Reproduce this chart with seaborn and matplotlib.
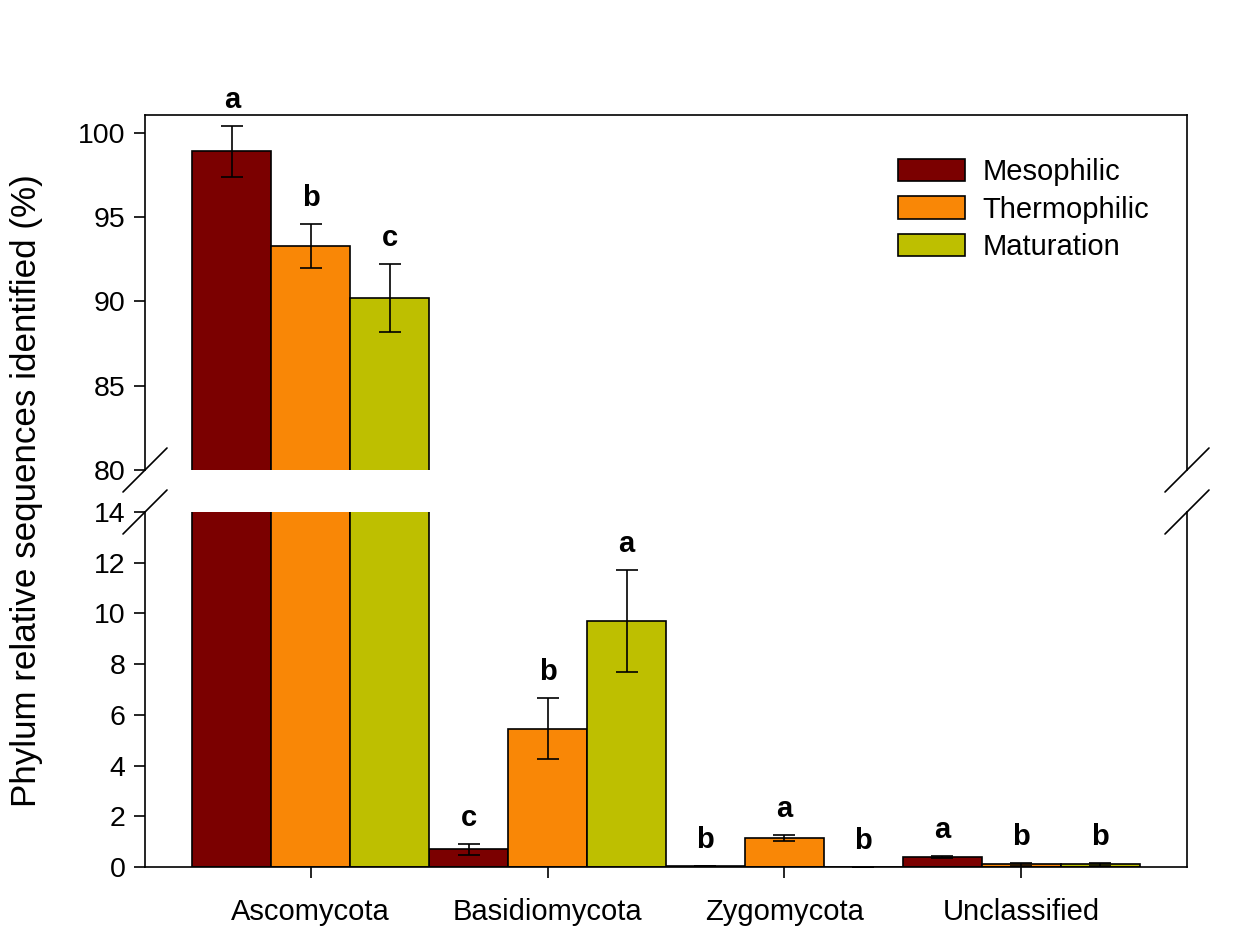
import numpy as np
import pandas as pd
import matplotlib
matplotlib.use("Agg")
import matplotlib.pyplot as plt
from matplotlib.patches import Patch
from matplotlib.container import BarContainer
import seaborn as sns

# Relative abundance (%) of fungal phyla in each composting stage
phyla = ["Ascomycota", "Basidiomycota", "Zygomycota", "Unclassified"]
stages = ["Mesophilic", "Thermophilic", "Maturation"]

mesophilic = [98.9, 0.70, 0.03, 0.40]
thermophilic = [93.3, 5.46, 1.14, 0.10]
maturation = [90.2, 9.70, 0.01, 0.10]

mesophilic_err = [1.5, 0.21, 0.01, 0.04]
thermophilic_err = [1.3, 1.19, 0.13, 0.05]
maturation_err = [2.0, 2.02, 0.005, 0.07]

# Significance letters (Duncan grouping) per stage
mesophilic_sig = ["a", "c", "b", "a"]
thermophilic_sig = ["b", "b", "a", "b"]
maturation_sig = ["c", "a", "b", "b"]

stage_colors = ["#7B0000", "#F98706", "#BEBF00"]

values = [mesophilic, thermophilic, maturation]
errors = [mesophilic_err, thermophilic_err, maturation_err]
letters = [mesophilic_sig, thermophilic_sig, maturation_sig]

df = pd.DataFrame({
    "phylum": np.repeat([phyla], len(stages), axis=0).ravel(),
    "stage": np.repeat(stages, len(phyla)),
    "value": np.concatenate(values),
})

sns.set_theme(style="white")
plt.rcParams["font.family"] = ["Liberation Sans", "DejaVu Sans"]
plt.rcParams["text.color"] = "black"

LW = 1.2
W, H = 1242, 933
fig = plt.figure(figsize=(W / 100, H / 100), dpi=100)
left, right = 145 / W, 1187 / W
ax_top = fig.add_axes([left, 1 - 470 / H, right - left, (470 - 115) / H])
ax_bot = fig.add_axes([left, 1 - 867 / H, right - left, (867 - 512) / H])

for ax in (ax_top, ax_bot):
    sns.barplot(data=df, x="phylum", y="value", hue="stage",
                order=phyla, hue_order=stages, palette=stage_colors,
                width=1.0, gap=0, errorbar=None, edgecolor="black",
                linewidth=LW, saturation=1, legend=False, ax=ax)
    bar_groups = [c for c in ax.containers if isinstance(c, BarContainer)]
    for j, cont in enumerate(bar_groups):
        for i, bar in enumerate(list(cont.patches)):
            xc = bar.get_x() + bar.get_width() / 2
            yv = bar.get_height()
            ax.errorbar(xc, yv, yerr=errors[j][i], fmt="none", ecolor="black",
                        elinewidth=LW, capsize=8, capthick=LW)
            ax.annotate(letters[j][i], (xc, yv + errors[j][i]),
                        xytext=(0, 13), textcoords="offset points",
                        ha="center", va="baseline", fontsize=21,
                        fontweight="bold", color="black",
                        annotation_clip=True)
    ax.set_xlim(-0.70, 3.70)
    ax.set_xlabel("")
    ax.set_ylabel("")
    for s in ax.spines.values():
        s.set_color("black")
        s.set_linewidth(LW)

ax_top.set_ylim(80, 101.05)
ax_top.set_yticks([80, 85, 90, 95, 100])
ax_top.spines["bottom"].set_visible(False)
ax_top.tick_params(axis="x", bottom=False, labelbottom=False)

ax_bot.set_ylim(0, 14)
ax_bot.set_yticks(range(0, 15, 2))
ax_bot.spines["top"].set_visible(False)

for ax in (ax_top, ax_bot):
    ax.tick_params(axis="y", left=True, direction="out", length=8, width=LW,
                   labelsize=20.5, colors="black", labelcolor="black", pad=6)
ax_bot.tick_params(axis="x", bottom=True, direction="out", length=8, width=LW,
                   labelsize=21, colors="black", labelcolor="black", pad=14)

# Diagonal break marks on both vertical spines
dx_t, dy_t = 22 / 1042, 22 / 355
kw = dict(color="black", linewidth=LW, clip_on=False)
for ax, yb in ((ax_top, 0), (ax_bot, 1)):
    for xb in (0, 1):
        ax.plot([xb - dx_t, xb + dx_t], [yb - dy_t, yb + dy_t],
                transform=ax.transAxes, **kw)

handles = [Patch(facecolor=c, edgecolor="black", linewidth=LW, label=s)
           for c, s in zip(stage_colors, stages)]
leg = ax_top.legend(handles=handles, loc="upper left",
                    bbox_to_anchor=(898 / W, 1 - 158 / H),
                    bbox_transform=fig.transFigure, frameon=False,
                    fontsize=21, handlelength=2.3, handleheight=0.8,
                    handletextpad=0.6, labelspacing=0.33, borderpad=0,
                    borderaxespad=0)
for t in leg.get_texts():
    t.set_color("black")

fig.text(27 / W, 1 - 491 / H, "Phylum relative sequences identified (%)",
         rotation=90, ha="center", va="center", fontsize=25.2, color="black")

fig.savefig("out.png", dpi=100, facecolor="white")
